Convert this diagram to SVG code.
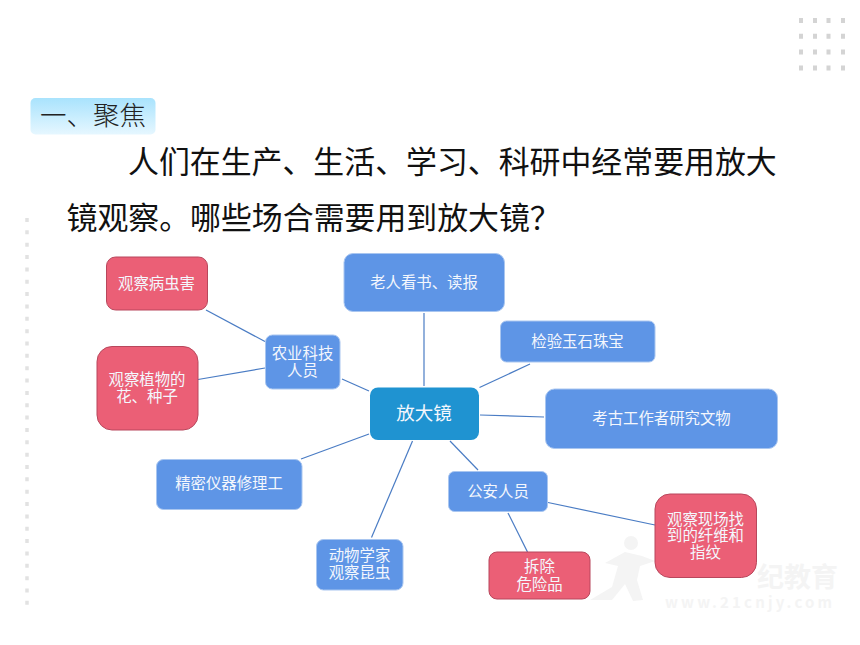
<svg xmlns="http://www.w3.org/2000/svg" width="860" height="645" viewBox="0 0 860 645">
<defs>
<linearGradient id="hd" x1="0" y1="0" x2="0" y2="1"><stop offset="0" stop-color="#a9e3fd"/><stop offset="1" stop-color="#e6f7ff"/></linearGradient>
</defs>
<style>
text{font-family:"Noto Sans CJK SC","Noto Sans",sans-serif}
.body{font-size:30.9px;fill:#111}
.n{font-size:15.4px;fill:#f4f7fd;text-anchor:middle}
.b{fill:#5e95e6;stroke:#a9c6f0;stroke-width:1}
.r{fill:#eb5f76;stroke:#b8475c;stroke-width:1}
.c{stroke:#4a7cc4;stroke-width:1.2;fill:none}
.d{stroke:#d4d4d4;fill:none}
</style>
<rect width="860" height="645" fill="#fff"/>
<g id="decor">
<g class="d" stroke-width="4" stroke-dasharray="5 10.8">
<path d="M801 18V72M815 18V72M828.500 18V72M843 18V72"/>
</g>
<path d="M27 218V610" stroke="#e2e2e2" stroke-width="3.500" stroke-dasharray="4 8.350" fill="none"/>
</g>
<g id="watermark" fill="#f4f4f4">
<circle cx="631" cy="543" r="7"/>
<path d="M605 563L625 552L642 556L655 561L640 566L637 580L643 600L633 601L625 584L612 600H590L612 587L618 566Z"/>
<text x="757" y="587" font-size="27" font-weight="700" fill="#f4f4f4">纪教育</text>
<text x="665" y="608" font-size="15" font-weight="700" textLength="167" fill="#f4f4f4">www.21cnjy.com</text>
</g>
<g id="heading">
<rect x="30.500" y="98" width="125" height="36.500" rx="5" fill="url(#hd)"/>
<text x="40" y="125" font-size="26.500" font-weight="300" fill="#222">一、聚焦</text>
</g>
<g id="paragraph">
<text class="body" x="128" y="173">人们在生产、生活、学习、科研中经常要用放大</text>
<text class="body" x="66.500" y="229">镜观察。哪些场合需要用到放大镜？</text>
</g>
<g id="connectors">
<line class="c" x1="206" y1="310" x2="265" y2="341.500"/>
<line class="c" x1="198" y1="379.500" x2="265" y2="368"/>
<line class="c" x1="342" y1="379" x2="369" y2="391"/>
<line class="c" x1="424" y1="313" x2="424" y2="386"/>
<line class="c" x1="530" y1="364" x2="479.500" y2="387.500"/>
<line class="c" x1="480" y1="415" x2="544" y2="417"/>
<line class="c" x1="450" y1="441" x2="478" y2="470"/>
<line class="c" x1="301" y1="459" x2="369" y2="434"/>
<line class="c" x1="371.500" y1="537.500" x2="412.500" y2="441"/>
<line class="c" x1="548" y1="502.500" x2="655" y2="525"/>
<line class="c" x1="508" y1="513" x2="527.500" y2="552"/>
</g>
<g id="n-center"><rect x="370" y="387.500" width="109" height="52.500" rx="8" fill="#1f93d1"/><text class="n" x="424" y="420" style="font-size:18.500px">放大镜</text></g>
<g id="n-pest"><rect class="r" x="106.500" y="257" width="101" height="53" rx="9"/><text class="n" x="156.500" y="288.500">观察病虫害</text></g>
<g id="n-plant"><rect class="r" x="97" y="346.500" width="101" height="83.500" rx="15"/><text class="n"><tspan x="147" y="384.500">观察植物的</tspan><tspan x="147" y="401.500">花、种子</tspan></text></g>
<g id="n-agri"><rect class="b" x="265.500" y="335" width="74.500" height="54" rx="7"/><text class="n"><tspan x="302.500" y="359">农业科技</tspan><tspan x="302.500" y="375.500">人员</tspan></text></g>
<g id="n-elder"><rect class="b" x="344" y="253.500" width="160.500" height="58" rx="9"/><text class="n" x="424" y="287.500">老人看书、读报</text></g>
<g id="n-jade"><rect class="b" x="500.500" y="321" width="154.500" height="41" rx="6"/><text class="n" x="577.500" y="346.500">检验玉石珠宝</text></g>
<g id="n-arch"><rect class="b" x="545.500" y="389" width="232" height="59.500" rx="9"/><text class="n" x="661.500" y="423.500">考古工作者研究文物</text></g>
<g id="n-inst"><rect class="b" x="156.500" y="459.500" width="145.500" height="50" rx="7"/><text class="n" x="229" y="489">精密仪器修理工</text></g>
<g id="n-zoo"><rect class="b" x="316.500" y="539.500" width="86.500" height="50.500" rx="7"/><text class="n"><tspan x="359.500" y="561">动物学家</tspan><tspan x="359.500" y="578">观察昆虫</tspan></text></g>
<g id="n-police"><rect class="b" x="448.500" y="471.500" width="99" height="40" rx="6"/><text class="n" x="498" y="496.500">公安人员</text></g>
<g id="n-scene"><rect class="r" x="655" y="494" width="101.500" height="83.500" rx="15"/><text class="n"><tspan x="705.500" y="524.500">观察现场找</tspan><tspan x="705.500" y="541">到的纤维和</tspan><tspan x="705.500" y="557.500">指纹</tspan></text></g>
<g id="n-bomb"><rect class="r" x="489" y="552" width="101" height="47" rx="8"/><text class="n"><tspan x="539.500" y="572">拆除</tspan><tspan x="539.500" y="590">危险品</tspan></text></g>
</svg>
